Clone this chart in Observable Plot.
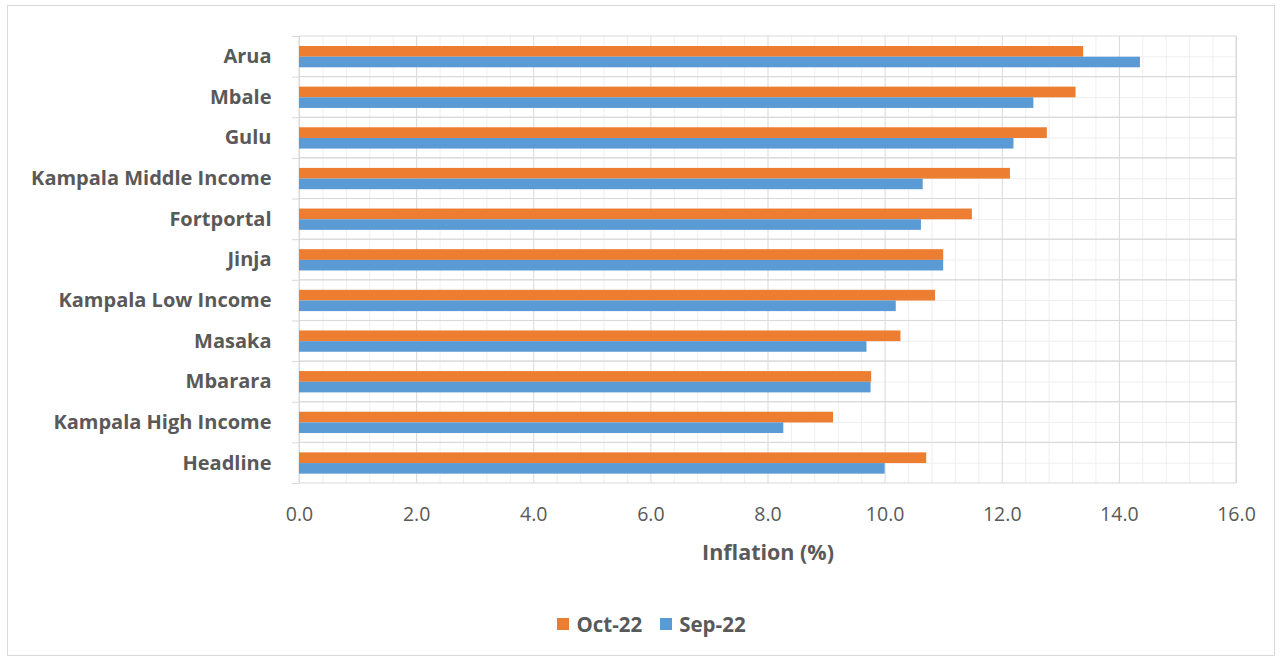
<!DOCTYPE html>
<html>
<head>
<meta charset="utf-8">
<script src="https://cdn.jsdelivr.net/npm/d3@7"></script>
<script src="https://cdn.jsdelivr.net/npm/@observablehq/plot@0.6"></script>
<style>
  body { margin: 0; background: #fff; font-family: "Open Sans", sans-serif; }
  #frame { position: absolute; left: 7px; top: 5px; width: 1268px; height: 651px; border: 1px solid #d9d9d9; box-sizing: border-box; }
  #chart { position: absolute; left: 0; top: 0; }
  #legend { position: absolute; top: 610px; left: 0; width: 1283px; display: flex; justify-content: center; gap: 18px; padding-left: 20px; box-sizing: border-box;
            font: bold 20.5px "Open Sans", sans-serif; color: #595959; }
  #legend span { display: inline-flex; align-items: center; }
  #legend i { display: inline-block; width: 12px; height: 12px; margin-right: 7px; }
</style>
</head>
<body>
<div id="frame"></div>
<div id="chart"></div>
<div id="legend"></div>
<script>
const categories = ["Arua","Mbale","Gulu","Kampala Middle Income","Fortportal","Jinja","Kampala Low Income","Masaka","Mbarara","Kampala High Income","Headline"];
const oct22 = [13.39, 13.26, 12.77, 12.14, 11.49, 11.0, 10.86, 10.27, 9.77, 9.12, 10.71];
const sep22 = [14.36, 12.54, 12.20, 10.65, 10.62, 11.0, 10.19, 9.69, 9.76, 8.27, 10.0];
const seriesNames = ["Oct-22", "Sep-22"];
const seriesColors = ["#ED7D31", "#5B9BD5"];
const xTicks = [0, 2, 4, 6, 8, 10, 12, 14, 16];
const xMinorTicks = [];
for (let i = 0; i < xTicks.length - 1; i++) for (let k = 1; k < 5; k++) xMinorTicks.push(+(xTicks[i] + k * 0.4).toFixed(1));

const octData = categories.map((c, i) => ({category: c, value: oct22[i]}));
const sepData = categories.map((c, i) => ({category: c, value: sep22[i]}));

const H = 580, MT = 36, MB = 97;
const band = (H - MT - MB) / categories.length;

const chart = Plot.plot({
  width: 1283,
  height: H,
  marginLeft: 299,
  marginRight: 47,
  marginTop: MT,
  marginBottom: MB,
  style: { fontFamily: "'Open Sans', sans-serif", color: "#595959", background: "transparent" },
  x: { domain: [0, 16] },
  y: { domain: categories, padding: 0, round: false },
  marks: [
    Plot.ruleX(xMinorTicks, { stroke: "#efefef", strokeWidth: 1 }),
    Plot.ruleY(categories, { stroke: "#efefef", strokeWidth: 1 }),
    Plot.ruleX(xTicks, { stroke: "#d9d9d9", strokeWidth: 1 }),
    Plot.barX(categories, { x1: 0, x2: 16, y: d => d, fill: "none", stroke: "#d9d9d9", strokeWidth: 1 }),
    Plot.ruleY(categories, { y: d => d, dy: -band / 2, x1: -0.12, x2: 0, stroke: "#d9d9d9" }),
    Plot.ruleY(categories.slice(-1), { y: d => d, dy: band / 2, x1: -0.12, x2: 0, stroke: "#d9d9d9" }),
    Plot.barX(octData, { x: "value", y: "category", fill: seriesColors[0], insetTop: 10, insetBottom: band - 20.7 }),
    Plot.barX(sepData, { x: "value", y: "category", fill: seriesColors[1], insetTop: 20.7, insetBottom: band - 31.3 }),
    Plot.axisX({ ticks: xTicks, tickFormat: d => d.toFixed(1), tickSize: 0, tickPadding: 24, fontSize: 19.5, fill: "#595959",
                 label: "Inflation (%)", labelAnchor: "center", labelArrow: "none", labelOffset: 76 }),
    Plot.axisY({ tickSize: 0, tickPadding: 28, fontSize: 20, fontWeight: "bold", fill: "#595959", label: null })
  ]
});
d3.select(chart).selectAll("[aria-label='x-axis label'] text").style("font-weight", "bold").style("font-size", "21.5px");
document.getElementById("chart").appendChild(chart);

const legend = document.getElementById("legend");
seriesNames.forEach((n, i) => {
  const s = document.createElement("span");
  s.innerHTML = `<i style="background:${seriesColors[i]}"></i>${n}`;
  legend.appendChild(s);
});
</script>
</body>
</html>
